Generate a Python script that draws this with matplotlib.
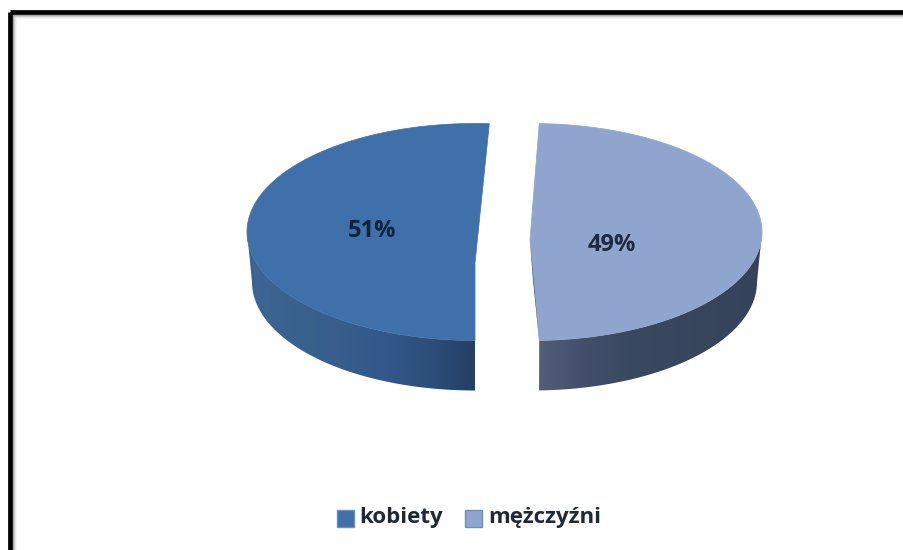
# -*- coding: utf-8 -*-
import numpy as np
import matplotlib
matplotlib.use('Agg')
import matplotlib.pyplot as plt
from matplotlib.patches import Polygon, Rectangle
from matplotlib.colors import LinearSegmentedColormap

plt.rcParams['font.family'] = ['Open Sans', 'DejaVu Sans']

# Data
categories = ['kobiety', 'mężczyźni']
shares = [51, 49]
start_angles = [180.0, 1.8]  # clockwise from 12 o'clock

top_colors = ['#3F70A9', '#8FA5CE']
wall_colors = [['#3C6697', '#39628F', '#375E8C', '#33588A', '#2C4F7A', '#234066'],
               ['#525E7A', '#434F6A', '#3A4962', '#38475F', '#36445C', '#34425A']]
label_colors = ['#10233F', '#1C2A40']

# Geometry of each exploded slice in pixels
centers_x = [475, 532]
apex_xy = [(475, 263), (530, 240)]
radius_x = [228, 230]
center_y = 232
radius_y = 108.5
depth = 50
shrink = 5
label_xy = [(372, 231), (612, 245)]

fig = plt.figure(figsize=(9.04, 5.5), dpi=100)
ax = fig.add_axes([0, 0, 1, 1])
ax.set_xlim(0, 904)
ax.set_ylim(550, 0)
ax.axis('off')

# Frame of the screenshot with soft inner shadow
for i, g in enumerate(['#A0A0A0', '#C4C4C4', '#E4E4E4', '#F6F6F6']):
    ax.add_patch(Rectangle((13 + i, 15 + i), 1000, 1000, fc='none', ec=g, lw=1.0, zorder=1))
ax.add_patch(Rectangle((10.5, 12.2), 1000, 1000, fc='none', ec='black', lw=3.4, zorder=2))


def arc_points(cx, cy, rx, ry, a0, a1, n=200):
    t = np.radians(np.linspace(a0, a1, n))
    return np.column_stack([cx + rx * np.sin(t), cy - ry * np.cos(t)])


for i, share in enumerate(shares):
    a0 = start_angles[i]
    a1 = a0 + share * 3.6
    cx = centers_x[i]
    rx = radius_x[i]

    # outer wall: only the part of the rim facing the viewer (lower half)
    wall_a0 = max(a0, 90)
    wall_a1 = min(a1, 270)
    rim_top = arc_points(cx, center_y, rx, radius_y, wall_a0, wall_a1)
    rim_bot = arc_points(cx, center_y + depth, rx - shrink, radius_y, wall_a0, wall_a1)
    wall = Polygon(np.vstack([rim_top, rim_bot[::-1]]), fc='none', ec='none', zorder=3)
    ax.add_patch(wall)
    xs = np.concatenate([rim_top[:, 0], rim_bot[:, 0]])
    cmap = LinearSegmentedColormap.from_list('wall%d' % i, wall_colors[i])
    im = ax.imshow(np.linspace(0, 1, 256).reshape(1, -1), cmap=cmap, aspect='auto',
                   extent=[xs.min(), xs.max(), 550, 0], zorder=3)
    im.set_clip_path(wall)

    # top face
    top = np.vstack([[apex_xy[i]], arc_points(cx, center_y, rx, radius_y, a0, a1)])
    ax.add_patch(Polygon(top, fc=top_colors[i], ec=top_colors[i], lw=0.5, zorder=4))

    ax.text(label_xy[i][0], label_xy[i][1], '%d%%' % share, ha='center', va='center',
            fontsize=17, fontweight='bold', color=label_colors[i], zorder=6)

# dark cut face visible on the right slice
cut = np.vstack([[apex_xy[1]], arc_points(centers_x[1], center_y, radius_x[1], radius_y, 178.2, 178.2, 1),
                 [(apex_xy[1][0] + 3, apex_xy[1][1] + 40)]])
ax.add_patch(Polygon(cut, fc='#3A4A63', ec='none', zorder=5))

ax.set_xlim(0, 904)
ax.set_ylim(550, 0)

# Legend
legend_box_x = [337, 465]
legend_text_x = [359, 488]
for i, name in enumerate(categories):
    ax.add_patch(Rectangle((legend_box_x[i], 510), 17, 17, fc=top_colors[i],
                           ec='#6F8FBB', lw=1.0, zorder=6))
    ax.text(legend_text_x[i], 518, name, ha='left', va='center', fontsize=16,
            fontweight='bold', color='#1E2A38', zorder=6)

fig.savefig('out.png', dpi=100)
